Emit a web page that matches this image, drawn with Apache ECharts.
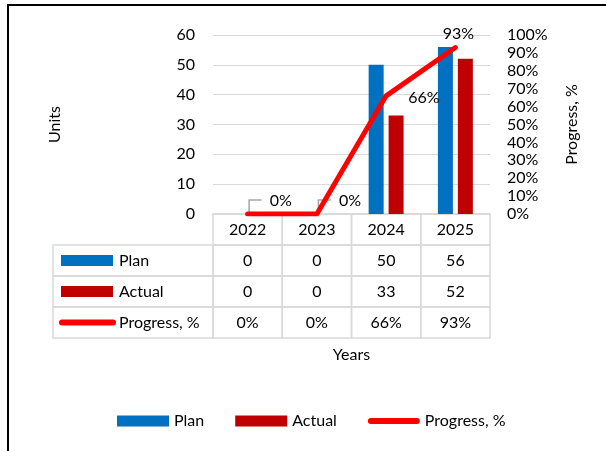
<!DOCTYPE html>
<html>
<head>
<meta charset="utf-8">
<script src="https://cdn.jsdelivr.net/npm/echarts@6/dist/echarts.min.js"></script>
<style>
  html, body { margin: 0; padding: 0; background: #fff; }
  #chart { width: 606px; height: 451px; }
</style>
</head>
<body>
<div id="chart"></div>
<script>
// ---- data ----
const years = ['2022', '2023', '2024', '2025'];
const plan = [0, 0, 50, 56];
const actual = [0, 0, 33, 52];
const progress = [0, 0, 0.66, 0.93];
const tableRows = ['', 'Plan', 'Actual', 'Progress, %'];

// ---- style ----
const FONT = 'Lato';
const FS = 16;
const TXT = '#000';
const BLUE = '#0070C0';
const DARKRED = '#C00000';
const RED = '#FF0000';
const GRID = '#D9D9D9';
const LEADER = '#A6A6A6';
const LABEL_COL_W = 160;
const pct = v => Math.round(v * 100) + '%';

// label placement for each point of the progress line
const labelPlacement = [
  { position: 'right', offset: [16, -13], leader: true },
  { position: 'right', offset: [16, -13], leader: true },
  { position: 'right', offset: [16, 2], leader: false },
  { position: 'top', offset: [3, 0], leader: false }
];
const progressData = progress.map((v, i) => ({
  value: v,
  label: { position: labelPlacement[i].position, offset: labelPlacement[i].offset }
}));
// points whose labels get a leader line
const leaderData = progress
  .map((v, i) => [i, v])
  .filter((d, i) => labelPlacement[i].leader);

function renderLeader(params, api) {
  const p = api.coord([api.value(0), api.value(1)]);
  return {
    type: 'polyline',
    shape: { points: [[p[0] + 1.5, p[1] - 2], [p[0] + 1.5, p[1] - 14], [p[0] + 14, p[1] - 14]] },
    style: { fill: 'none', stroke: LEADER, lineWidth: 1.5 },
    z2: 0
  };
}

// data table text, row by row
function cellText(col, row) {
  if (row === 0) return years[col];
  if (row === 1) return String(plan[col]);
  if (row === 2) return String(actual[col]);
  return pct(progress[col]);
}
const cellData = [];
for (let r = 0; r < tableRows.length; r++) {
  for (let c = 0; c < years.length; c++) cellData.push([c, r]);
}
const rowHeadData = [1, 2, 3].map(r => [0, r]);

function renderCell(params, api) {
  const c = api.value(0), r = api.value(1);
  const p = api.coord([c, r]);
  const s = api.size([1, 1]);
  return {
    type: 'group',
    children: [
      { type: 'rect',
        shape: { x: p[0] - s[0] / 2, y: p[1] - s[1] / 2, width: s[0], height: s[1] },
        style: { fill: 'none', stroke: GRID, lineWidth: 1.5 } },
      { type: 'text', x: p[0], y: p[1],
        style: { text: cellText(c, r), fontFamily: FONT, fontSize: FS, fill: TXT,
                 align: 'center', verticalAlign: 'middle' } }
    ]
  };
}

function renderRowHead(params, api) {
  const r = api.value(1);
  const p = api.coord([0, r]);
  const s = api.size([1, 1]);
  const x0 = p[0] - s[0] / 2 - LABEL_COL_W;
  const y0 = p[1] - s[1] / 2;
  const children = [
    { type: 'rect', shape: { x: x0, y: y0, width: LABEL_COL_W, height: s[1] },
      style: { fill: 'none', stroke: GRID, lineWidth: 1.5 } }
  ];
  if (r === 3) {
    children.push({ type: 'line', shape: { x1: x0 + 9, y1: p[1], x2: x0 + 60, y2: p[1] },
      style: { stroke: RED, lineWidth: 6, lineCap: 'round' } });
  } else {
    children.push({ type: 'rect', shape: { x: x0 + 8, y: p[1] - 5.5, width: 52, height: 11 },
      style: { fill: r === 1 ? BLUE : DARKRED } });
  }
  children.push({ type: 'text', x: x0 + 66, y: p[1],
    style: { text: tableRows[r], fontFamily: FONT, fontSize: FS, fill: TXT,
             align: 'left', verticalAlign: 'middle' } });
  return { type: 'group', children };
}

const textStyle = { fontFamily: FONT, fontSize: FS, color: TXT };

const chart = echarts.init(document.getElementById('chart'));
chart.setOption({
  animation: false,
  backgroundColor: '#fff',
  textStyle: { fontFamily: FONT },
  grid: [
    { left: 213, right: 116, top: 35, height: 179 },
    { left: 213, right: 116, top: 214, height: 124 }
  ],
  xAxis: [
    { type: 'category', gridIndex: 0, data: years,
      axisLine: { lineStyle: { color: GRID, width: 1.5 } },
      axisTick: { show: false }, axisLabel: { show: false } },
    { type: 'category', gridIndex: 1, data: years,
      axisLine: { show: false }, axisTick: { show: false }, axisLabel: { show: false },
      name: 'Years', nameLocation: 'middle', nameGap: 9,
      nameTextStyle: textStyle }
  ],
  yAxis: [
    { type: 'value', gridIndex: 0, min: 0, max: 60, interval: 10,
      axisLine: { show: false }, axisTick: { show: false },
      axisLabel: Object.assign({ margin: 18 }, textStyle),
      splitLine: { lineStyle: { color: GRID, width: 1 } },
      name: 'Units', nameLocation: 'middle', nameGap: 150, nameRotate: 90,
      nameTextStyle: textStyle },
    { type: 'value', gridIndex: 0, position: 'right', min: 0, max: 1, interval: 0.1,
      axisLine: { show: false }, axisTick: { show: false }, splitLine: { show: false },
      axisLabel: Object.assign({ margin: 17, formatter: pct }, textStyle),
      name: 'Progress, %', nameLocation: 'middle', nameGap: 74, nameRotate: 90,
      nameTextStyle: textStyle },
    { type: 'category', gridIndex: 1, data: tableRows, inverse: true, show: false }
  ],
  legend: {
    data: [
      { name: 'Plan', icon: 'rect' },
      { name: 'Actual', icon: 'rect' },
      { name: 'Progress, %', icon: 'path://M3,0 H49 A3,3 0 0 1 49,6 H3 A3,3 0 0 1 3,0 Z' }
    ],
    left: 117, top: 413, itemWidth: 52, itemHeight: 11, itemGap: 31, padding: 0,
    selectedMode: false, textStyle: textStyle
  },
  graphic: [
    { type: 'rect', silent: true, z: 100,
      shape: { x: 8, y: 5, width: 700, height: 600 },
      style: { fill: 'none', stroke: '#000', lineWidth: 2 } }
  ],
  series: [
    { name: 'Plan', type: 'bar', xAxisIndex: 0, yAxisIndex: 0, data: plan,
      barWidth: 15, barGap: '33%', itemStyle: { color: BLUE } },
    { name: 'Actual', type: 'bar', xAxisIndex: 0, yAxisIndex: 0, data: actual,
      barWidth: 15, barGap: '33%', itemStyle: { color: DARKRED } },
    { type: 'custom', name: 'leaders', xAxisIndex: 0, yAxisIndex: 1, data: leaderData,
      renderItem: renderLeader, clip: false, silent: true, z: 2 },
    { name: 'Progress, %', type: 'line', xAxisIndex: 0, yAxisIndex: 1, data: progressData,
      symbol: 'circle', symbolSize: 2, showSymbol: true,
      itemStyle: { color: RED },
      lineStyle: { color: RED, width: 5, cap: 'round', join: 'round' },
      label: { show: true, formatter: p => pct(p.value), fontFamily: FONT, fontSize: FS, color: TXT, distance: 5 },
      z: 3 },
    { type: 'custom', name: 'tableCells', xAxisIndex: 1, yAxisIndex: 2, data: cellData,
      renderItem: renderCell, clip: false, silent: true },
    { type: 'custom', name: 'tableRowHeads', xAxisIndex: 1, yAxisIndex: 2, data: rowHeadData,
      renderItem: renderRowHead, clip: false, silent: true }
  ]
});
</script>
</body>
</html>
